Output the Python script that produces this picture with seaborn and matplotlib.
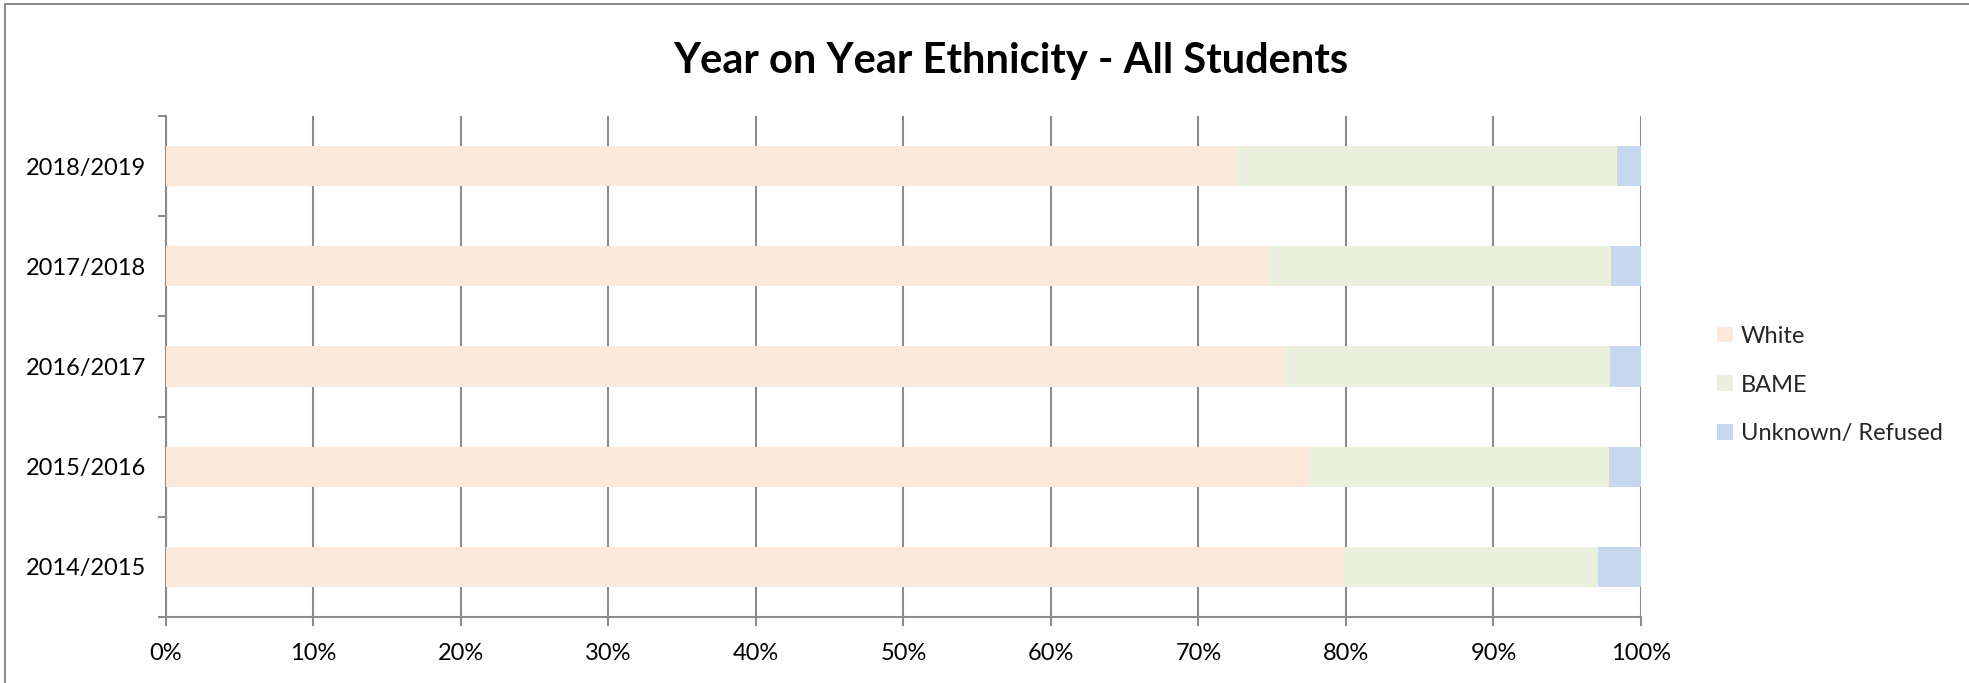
import matplotlib
matplotlib.use("Agg")
import matplotlib.pyplot as plt
from matplotlib.patches import Patch
from matplotlib.lines import Line2D
from matplotlib.ticker import MultipleLocator, FixedLocator, FuncFormatter
import seaborn as sns
import pandas as pd

# Academic years, top to bottom
years = ["2018/2019", "2017/2018", "2016/2017", "2015/2016", "2014/2015"]

# Percentage share of students in each group
white = [72.5, 74.7, 75.8, 77.4, 79.9]
bame = [25.9, 23.3, 22.1, 20.4, 17.2]
unknown = [1.6, 2.0, 2.1, 2.2, 2.9]

series_names = ["White", "BAME", "Unknown/ Refused"]
colors = ["#FCE9DA", "#EBEFDE", "#C6D8EF"]

df = pd.DataFrame({"year": years, "White": white, "BAME": bame, "Unknown/ Refused": unknown})
# running totals so each segment starts where the previous one ends
df["c_white"] = df["White"]
df["c_bame"] = df["White"] + df["BAME"]
df["c_unknown"] = df["c_bame"] + df["Unknown/ Refused"]

sns.set_theme(style="white")
plt.rcParams["font.family"] = ["Lato", "DejaVu Sans"]

fig = plt.figure(figsize=(19.69, 6.83), dpi=100)
ax = fig.add_axes([165.8 / 1969, 1 - 617 / 683, (1641 - 165.8) / 1969, (617 - 116) / 683])

grid_col = "#8C8C8C"

# stacked bars: draw the longest running total first, shorter ones on top
for col, c in zip(["c_unknown", "c_bame", "c_white"], colors[::-1]):
    sns.barplot(data=df, x=col, y="year", order=years, orient="h", color=c,
                width=0.4, saturation=1, ax=ax, zorder=3, linewidth=0)

ax.set_xlim(0, 100)
ax.set_ylim(4.5, -0.5)
ax.set_xlabel("")
ax.set_ylabel("")

ax.xaxis.set_major_locator(MultipleLocator(10))
ax.xaxis.set_major_formatter(FuncFormatter(lambda v, p: f"{int(round(v))}%"))
ax.grid(axis="x", color=grid_col, linewidth=1.5, zorder=0)
ax.set_axisbelow(True)

# category boundaries carry the tick marks, labels sit at bar centres
ax.yaxis.set_minor_locator(FixedLocator([i - 0.5 for i in range(len(years) + 1)]))
ax.tick_params(axis="y", which="major", length=0, pad=14, labelsize=17, labelcolor="black")
ax.tick_params(axis="y", which="minor", length=6, width=1.5, color=grid_col, left=True)
ax.tick_params(axis="x", which="major", length=6.5, width=1.5, color=grid_col, bottom=True,
               pad=12, labelsize=17, labelcolor="black")

for side in ["top", "right"]:
    ax.spines[side].set_visible(False)
for side in ["left", "bottom"]:
    ax.spines[side].set_color(grid_col)
    ax.spines[side].set_linewidth(1.5)

fig.text(1011 / 1969, 1 - 61 / 683, "Year on Year Ethnicity - All Students",
         ha="center", va="center", fontsize=30, fontweight="bold", color="black")

handles = [Patch(facecolor=c, edgecolor="none", label=n) for c, n in zip(colors, series_names)]
fig.legend(handles=handles, loc="center left", bbox_to_anchor=(1708 / 1969, 1 - 385 / 683),
           frameon=False, fontsize=17, handlelength=0.65, handleheight=0.65,
           handletextpad=0.35, labelspacing=1.17, borderaxespad=0)

# chart border (left and top edges)
fig.add_artist(Line2D([5 / 1969, 5 / 1969], [0, 1 - 4 / 683], color=grid_col, linewidth=1.5,
                      transform=fig.transFigure))
fig.add_artist(Line2D([5 / 1969, 1], [1 - 4 / 683, 1 - 4 / 683], color=grid_col, linewidth=1.5,
                      transform=fig.transFigure))

fig.savefig("out.png", dpi=100, facecolor="white")
